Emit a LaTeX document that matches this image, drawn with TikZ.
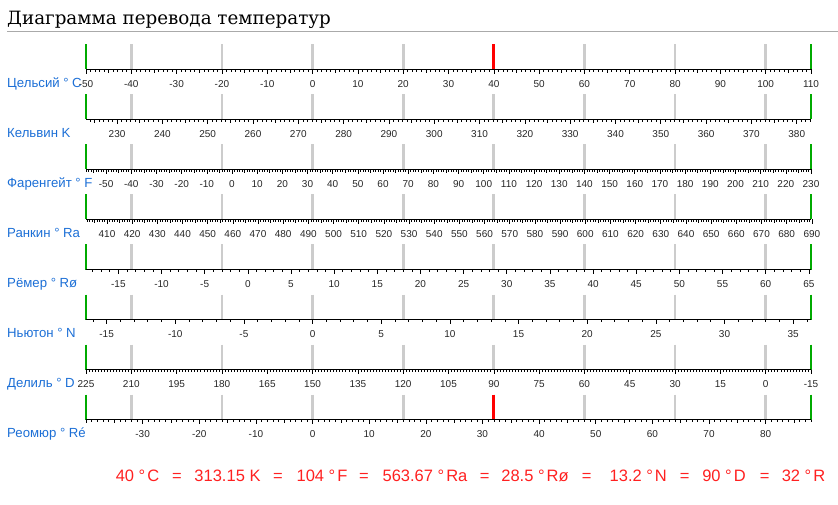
\documentclass[tikz,border=0pt]{standalone}
\usepackage{fontspec}
\setmainfont{Liberation Sans}
\newfontfamily\titlefont{DejaVu Serif}
\usepackage{xcolor}
\definecolor{labelblue}{HTML}{1C6FD6}
\definecolor{markred}{HTML}{FF0000}
\definecolor{endgreen}{HTML}{00AA00}
\definecolor{stepgray}{HTML}{CCCCCC}
\definecolor{rulegray}{HTML}{AAAAAA}
\definecolor{resultred}{HTML}{FF2020}
\newcommand\dg{°\hspace{3.5pt}}
\newcommand\rdg{°\hspace{2pt}}
\tikzset{scale name/.style={anchor=base west, inner sep=0pt, font=\fontsize{13.2}{15}\selectfont, text=labelblue},
        tick label/.style={anchor=base, inner sep=0pt, font=\fontsize{10}{12}\selectfont, text=black!85},
        minor tick/.style={line width=0.6pt},
        bar/.style={line width=2.8pt},
        result/.style={anchor=base, inner sep=0pt, font=\fontsize{16.5}{19}\selectfont, text=resultred},
}

\begin{document}
\begin{tikzpicture}[x=1pt, y=-1pt]
      \useasboundingbox (0,0) rectangle (838,505);

      % TITLE
      \node[anchor=base west, inner sep=0pt, font=\titlefont\fontsize{18.3}{21}\selectfont] (title) at (7,25) {Диаграмма перевода температур};
      \draw[rulegray, line width=1pt] (7,31.5) -- (838,31.5);

      % BARS between the scales, at every 20 degrees Celsius
      \foreach \row in {0,...,7}{
        \pgfmathsetmacro\ya{69.5+50*\row}
        \foreach \c in {-40,-20,...,100}{
          \pgfmathsetmacro\xc{312.5625+4.53125*\c}
          \draw[bar, stepgray] (\xc,\ya-25) -- (\xc,\ya);
        }
        \draw[bar, endgreen] (86,\ya-25) -- (86,\ya);
        \draw[bar, endgreen] (811,\ya-25) -- (811,\ya);
      }
      \draw[bar, markred] (493.8,44.5) -- (493.8,69.5);
      \draw[bar, markred] (493.8,394.5) -- (493.8,419.5);

      % SCALES  row / name / offset / px per unit / first tick / last tick / labels / medium ticks
      \foreach \row/\name/\A/\B/\tmin/\tmax/\labs/\med in {
          0/{Цельсий \dg C}/312.5625/4.53125/-50/110/{-50,-40,...,110}/1,
          1/{Кельвин K}/-925.1484/4.53125/224/383/{230,240,...,380}/1,
          2/{Фаренгейт \dg F}/232.0069/2.517361/-58/230/{-50,-40,...,230}/1,
          3/{Ранкин \dg Ra}/-925.1484/2.517361/402/690/{410,420,...,690}/1,
          4/{Рёмер \dg Rø}/247.8304/8.630952/-18/65/{-15,-10,...,65}/0,
          5/{Ньютон \dg N}/312.5625/13.731061/-16/36/{-15,-10,...,35}/0,
          6/{Делиль \dg D}/765.6875/-3.020833/-15/225/{225,210,...,-15}/0,
          7/{Реомюр \dg Ré}/312.5625/5.664063/-40/88/{-30,-20,...,80}/1}{
        \pgfmathsetmacro\ya{69.5+50*\row}
        \draw[line width=0.8pt] (86,\ya) -- (811,\ya);
        \node[scale name] (name\row) at (7,\ya+18) {\name};
        % small ticks
        \foreach \v in {\tmin,...,\tmax}{
          \pgfmathsetmacro\xt{\A+\B*\v}
          \pgfmathsetmacro\tl{(\med>0 && mod(\v,5)==0) ? 3.5 : 2.2}
          \draw[minor tick] (\xt,\ya) -- (\xt,\ya+\tl);
        }
        % labelled ticks
        \foreach \v in \labs{
          \pgfmathsetmacro\xt{\A+\B*\v}
          \draw[minor tick] (\xt,\ya) -- (\xt,\ya+4.5);
          \node[tick label] (lab\row-\v) at (\xt,\ya+18) {\v};
        }
      }

      % RESULT LINE
      \foreach \i/\xr/\txt in {1/137.5/{40 \rdg C}, 2/177/=, 3/227.5/{313.15 K}, 4/278/=, 5/322/{104 \rdg F},
          6/364/=, 7/425/{563.67 \rdg Ra}, 8/484.7/=, 9/535/{28.5 \rdg Rø}, 10/586.7/=, 11/638.3/{13.2 \rdg N},
          12/684.7/=, 13/724/{90 \rdg D}, 14/764.7/=, 15/803.5/{32 \rdg R}}{
        \node[result] (res\i) at (\xr,481) {\txt};
      }

\end{tikzpicture}
\end{document}
